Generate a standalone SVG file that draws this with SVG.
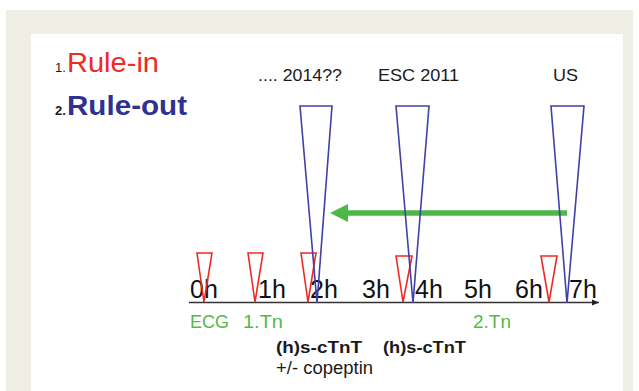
<svg xmlns="http://www.w3.org/2000/svg" width="639" height="391" viewBox="0 0 639 391">
<style>
.lbl{font-family:"Liberation Sans",Arial,sans-serif;fill:#1a1a1a}
.hr{font-family:"Liberation Sans",Arial,sans-serif;font-size:25px;fill:#111}
.grn{font-family:"Liberation Sans",Arial,sans-serif;font-size:18px;fill:#55b947}
.bt{fill:none;stroke:#4040a8;stroke-width:1.6;stroke-linejoin:miter}
.rt{fill:none;stroke:#ee2a24;stroke-width:1.6}
</style>
<defs>
<marker id="ax" markerWidth="8" markerHeight="8" refX="7" refY="4" orient="auto" markerUnits="userSpaceOnUse">
<path d="M0,1 L7,4 L0,7 Z" fill="#222"/>
</marker>
</defs>
<rect x="0" y="0" width="639" height="391" fill="#ffffff"/>
<rect x="6" y="10" width="627" height="381" fill="#eeeee4"/>
<rect x="31" y="34" width="592" height="357" fill="#ffffff"/>

<g id="legend">
<text class="lbl" x="55" y="72" font-size="13">1.</text>
<text x="67" y="72" font-family="Liberation Sans,Arial,sans-serif" font-size="28" fill="#ee2a24" textLength="92" lengthAdjust="spacingAndGlyphs">Rule-in</text>
<text class="lbl" x="55" y="115" font-size="13" font-weight="bold">2.</text>
<text x="67" y="115" font-family="Liberation Sans,Arial,sans-serif" font-size="27" font-weight="bold" fill="#2e3192" textLength="120" lengthAdjust="spacingAndGlyphs">Rule-out</text>
</g>

<g id="headers">
<text class="lbl" x="258" y="81" font-size="17" textLength="84" lengthAdjust="spacingAndGlyphs">.... 2014??</text>
<text class="lbl" x="378" y="81" font-size="17" textLength="81" lengthAdjust="spacingAndGlyphs">ESC 2011</text>
<text class="lbl" x="553" y="81" font-size="17" textLength="25" lengthAdjust="spacingAndGlyphs">US</text>
</g>

<g id="connectors">
<line x1="189" y1="302.5" x2="599" y2="302.5" stroke="#333" stroke-width="1.5" marker-end="url(#ax)"/>
<line x1="567" y1="213" x2="345" y2="213" stroke="#4db848" stroke-width="5.5"/>
<path d="M330,213 L348,204 L348,222 Z" fill="#4db848"/>
</g>

<g id="hours">
<text class="hr" x="190" y="298">0h</text>
<text class="hr" x="258" y="298">1h</text>
<text class="hr" x="310" y="298">2h</text>
<text class="hr" x="362" y="298">3h</text>
<text class="hr" x="415" y="298">4h</text>
<text class="hr" x="464" y="298">5h</text>
<text class="hr" x="515" y="298">6h</text>
<text class="hr" x="569" y="298">7h</text>
</g>

<g id="red-markers">
<path class="rt" d="M197,253 L212,253 L204,302 Z"/>
<path class="rt" d="M248,253 L263,253 L255,302 Z"/>
<path class="rt" d="M301,253 L316,253 L308,302 Z"/>
<path class="rt" d="M396,256 L412,256 L403,302 Z"/>
<path class="rt" d="M541,256 L557,256 L549,302 Z"/>
</g>

<g id="blue-markers">
<path class="bt" d="M300,106 L332,106 L317,303 Z"/>
<path class="bt" d="M396,106 L429,106 L413,303 Z"/>
<path class="bt" d="M551,106 L584,106 L567,303 Z"/>
</g>

<g id="labels">
<text class="grn" x="190" y="328" textLength="39" lengthAdjust="spacingAndGlyphs">ECG</text>
<text class="grn" x="243" y="328" textLength="40" lengthAdjust="spacingAndGlyphs">1.Tn</text>
<text class="grn" x="473" y="328" textLength="38" lengthAdjust="spacingAndGlyphs">2.Tn</text>
<text class="lbl" x="276" y="353" font-size="17" font-weight="bold" textLength="86" lengthAdjust="spacingAndGlyphs">(h)s-cTnT</text>
<text class="lbl" x="383" y="353" font-size="17" font-weight="bold" textLength="83" lengthAdjust="spacingAndGlyphs">(h)s-cTnT</text>
<text class="lbl" x="276" y="374" font-size="18" textLength="97" lengthAdjust="spacingAndGlyphs">+/- copeptin</text>
</g>
</svg>
